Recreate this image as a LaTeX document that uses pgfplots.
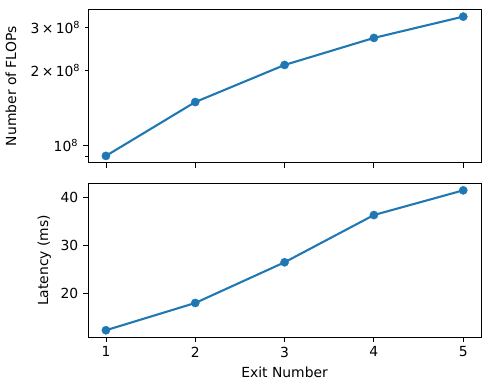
\documentclass[border=0pt]{standalone}
\usepackage{fontspec}
\setmainfont{DejaVu Sans}
\usepackage{pgfplots}
\pgfplotsset{compat=1.18}

\definecolor{mplblue}{HTML}{1F77B4}

\pgfplotsset{
    mplstyle/.style={
        scale only axis,
        width=283pt,
        height=110.3pt,
        xmin=0.8, xmax=5.2,
        xtick={1,2,3,4,5},
        tick align=outside,
        xtick pos=bottom,
        ytick pos=left,
        major tick length=3.5pt,
        minor tick length=2pt,
        tick style={black, line width=0.6pt},
        axis line style={line width=0.6pt},
        /pgf/number format/assume math mode=true,
        tick label style={font=\fontsize{10}{12}\selectfont},
        label style={font=\fontsize{10}{12}\selectfont},
    },
    mplline/.style={
        color=mplblue, line width=1.5pt, mark=*,
        mark size=3pt, mark options={solid, fill=mplblue, draw=mplblue, line width=0.2pt},
    },
}

\begin{document}
\begin{tikzpicture}
\path[use as bounding box] (-63.4pt,-38.2pt) rectangle (289.4pt,242.6pt);

% bottom: latency
\begin{axis}[
    mplstyle,
    at={(0,0)}, anchor=south west,
    ymin=10.86, ymax=42.93,
    ytick={20,30,40},
    xlabel={Exit Number},
    ylabel={Latency (ms)},
]
\addplot[mplline] coordinates {
    (1,12.26) (2,17.97) (3,26.49) (4,36.38) (5,41.55)
};
\end{axis}

% top: FLOPs
\begin{axis}[
    mplstyle,
    at={(0,125.3pt)}, anchor=south west,
    ymode=log,
    ymin=0.848e8, ymax=3.53e8,
    ytick={1e8},
    yticklabels={10\textsuperscript{8}},
    minor ytick={},
    extra y ticks={9e7,2e8,3e8},
    extra y tick labels={,2\,×\,10\textsuperscript{8},3\,×\,10\textsuperscript{8}},
    extra y tick style={major tick length=2pt},
    xticklabels={},
    ylabel={Number of FLOPs},
]
\addplot[mplline] coordinates {
    (1,0.905e8) (2,1.494e8) (3,2.11e8) (4,2.714e8) (5,3.31e8)
};
\end{axis}
\end{tikzpicture}
\end{document}
